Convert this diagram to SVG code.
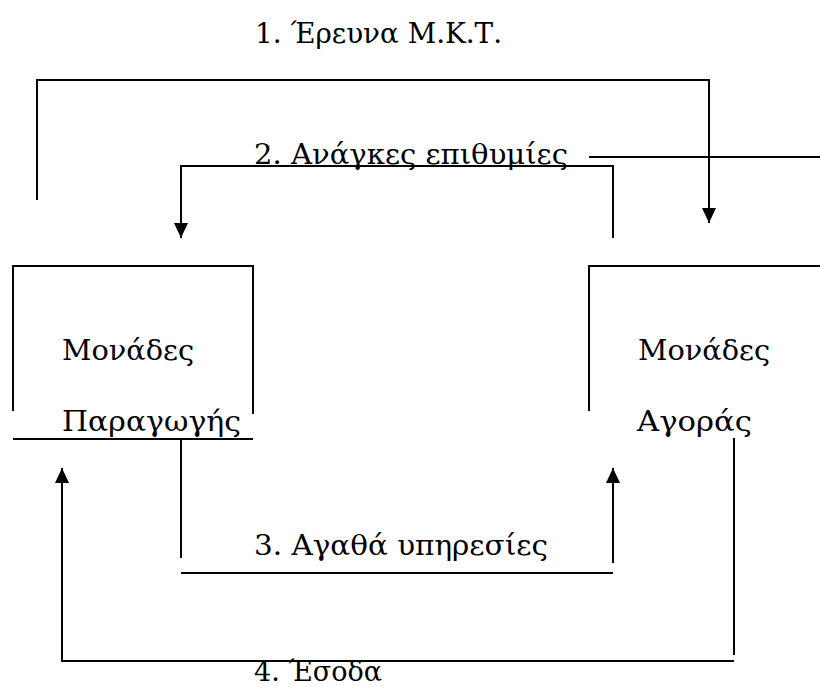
<svg xmlns="http://www.w3.org/2000/svg" width="820" height="687" viewBox="0 0 820 687">
  <style>
    .ln { fill: none; stroke: #000; stroke-width: 2; }
    .tx { font-family: "DejaVu Serif", "Liberation Serif", serif; font-size: 27px; fill: #000; }
  </style>
  <defs>
    <marker id="arr" markerUnits="userSpaceOnUse" markerWidth="16" markerHeight="15" refX="15" refY="7" orient="auto">
      <path d="M0,0 L15,7 L0,14 Z" fill="#000"/>
    </marker>
  </defs>
  <rect width="820" height="687" fill="#fff"/>

  <g id="node-producers">
    <path class="ln" d="M13,411 V266 H253 V414"/>
    <path class="ln" d="M13,439 H253"/>
    <text class="tx" x="62" y="360" textLength="132" lengthAdjust="spacingAndGlyphs">Μονάδες</text>
    <text class="tx" x="62" y="431" textLength="179" lengthAdjust="spacingAndGlyphs">Παραγωγής</text>
  </g>

  <g id="node-buyers">
    <path class="ln" d="M589,411 V266 H820"/>
    <text class="tx" x="638" y="360" textLength="132" lengthAdjust="spacingAndGlyphs">Μονάδες</text>
    <text class="tx" x="637" y="431" textLength="115" lengthAdjust="spacingAndGlyphs">Αγοράς</text>
  </g>

  <g id="connectors">
    <path class="ln" d="M37,200 V80 H709 V223" marker-end="url(#arr)"/>
    <path class="ln" d="M613,238 V166 H181 V238" marker-end="url(#arr)"/>
    <path class="ln" d="M589,157 H820"/>
    <path class="ln" d="M181,439 V558"/>
    <path class="ln" d="M181,573 H613"/>
    <path class="ln" d="M613,563 V468" marker-end="url(#arr)"/>
    <path class="ln" d="M734,438 V655"/>
    <path class="ln" d="M734,661 H62 V468" marker-end="url(#arr)"/>
  </g>

  <g id="labels">
    <text class="tx" x="255" y="43" textLength="247" lengthAdjust="spacingAndGlyphs">1. Έρευνα Μ.Κ.Τ.</text>
    <text class="tx" x="254" y="164" textLength="314" lengthAdjust="spacingAndGlyphs">2. Ανάγκες επιθυμίες</text>
    <text class="tx" x="254" y="555" textLength="294" lengthAdjust="spacingAndGlyphs">3. Αγαθά υπηρεσίες</text>
    <text class="tx" x="254" y="681" textLength="128" lengthAdjust="spacingAndGlyphs">4. Έσοδα</text>
  </g>
</svg>
